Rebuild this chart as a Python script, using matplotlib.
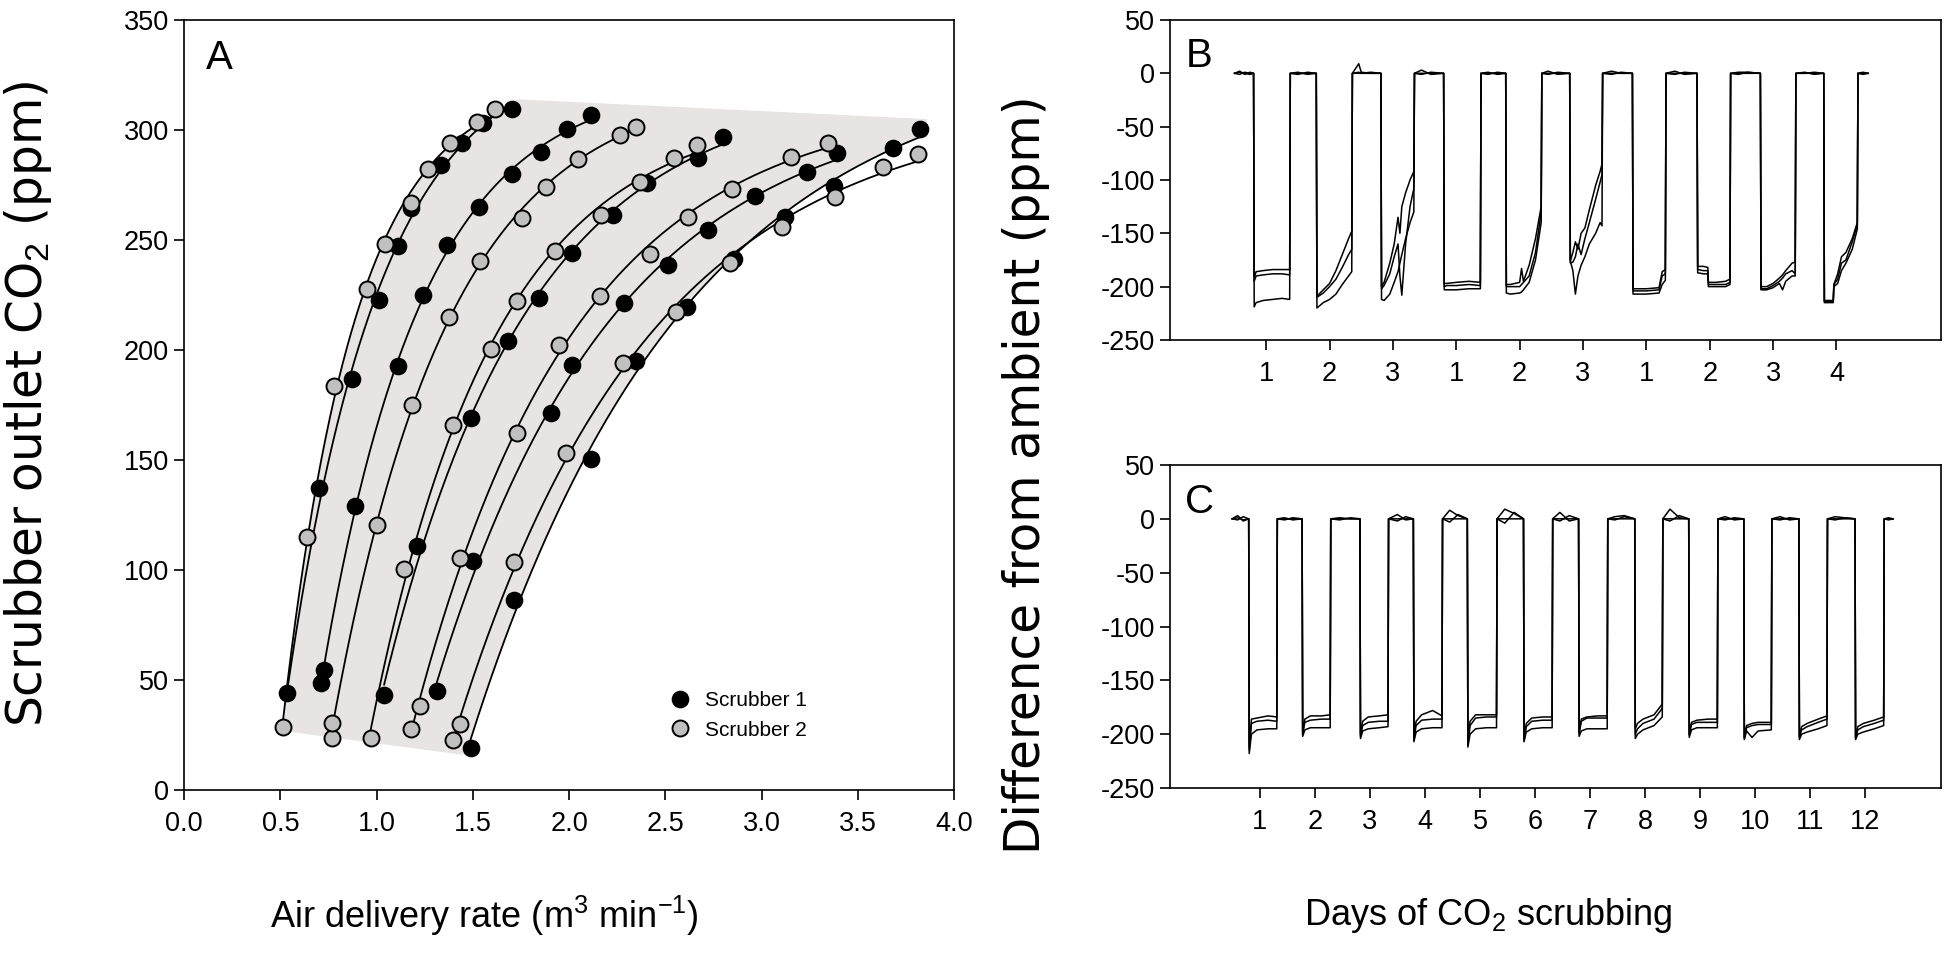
import numpy as np
import matplotlib
matplotlib.use("Agg")
import matplotlib.pyplot as plt
from matplotlib.lines import Line2D

WIDE = ['DejaVu Sans']
plt.rcParams['font.family'] = ['Liberation Sans', 'DejaVu Sans']
plt.rcParams['mathtext.fontset'] = 'custom'
plt.rcParams['mathtext.rm'] = 'Liberation Sans'
plt.rcParams['mathtext.it'] = 'Liberation Sans:italic'
plt.rcParams['axes.unicode_minus'] = False

# ---- panel A: outlet CO2 vs air delivery rate, one list per run ----
S1_X = [
    [0.537, 0.703, 0.871, 1.015, 1.110, 1.179, 1.335, 1.446, 1.555, 1.702],
    [0.710, 0.727, 0.888, 1.110, 1.243, 1.365, 1.534, 1.702, 1.853, 1.988, 2.114],
    [1.039, 1.209, 1.489, 1.685, 1.846, 2.014, 2.227, 2.407, 2.667, 2.802],
    [1.313, 1.503, 1.905, 2.017, 2.286, 2.516, 2.724, 2.966, 3.238, 3.394],
    [1.489, 1.714, 2.113, 2.348, 2.611, 2.857, 3.122, 3.377, 3.681, 3.823],
]
S1_Y = [
    [43.9, 137.4, 186.9, 222.9, 247.1, 264.8, 284.2, 294.3, 303.4, 309.7],
    [48.7, 54.5, 128.9, 192.9, 225.0, 247.7, 265.2, 279.9, 290.2, 300.3, 306.9],
    [43.1, 110.8, 169.0, 203.9, 223.5, 244.1, 261.5, 276.1, 287.5, 296.9],
    [45.1, 103.9, 171.3, 193.2, 221.2, 238.6, 254.7, 270.1, 281.0, 289.4],
    [19.1, 86.6, 150.6, 195.2, 219.8, 241.3, 260.7, 274.6, 291.7, 300.4],
]
S2_X = [
    [0.513, 0.637, 0.781, 0.949, 1.044, 1.179, 1.266, 1.382, 1.520, 1.616],
    [0.767, 0.767, 1.001, 1.183, 1.378, 1.538, 1.754, 1.881, 2.045, 2.265, 2.346],
    [0.970, 1.143, 1.399, 1.593, 1.728, 1.927, 2.165, 2.369, 2.545, 2.663],
    [1.179, 1.226, 1.434, 1.728, 1.950, 2.161, 2.421, 2.617, 2.847, 3.153, 3.347],
    [1.396, 1.434, 1.714, 1.984, 2.279, 2.556, 2.836, 3.105, 3.382, 3.633, 3.811],
]
S2_Y = [
    [28.5, 115.0, 183.5, 227.7, 248.4, 266.8, 282.2, 294.1, 303.8, 309.4],
    [23.5, 30.5, 120.7, 174.8, 215.2, 240.3, 260.2, 274.3, 286.7, 297.8, 301.5],
    [23.5, 100.6, 166.0, 200.5, 222.4, 245.1, 261.3, 276.6, 287.5, 293.2],
    [27.8, 38.1, 105.6, 162.4, 202.3, 224.7, 243.6, 260.6, 273.4, 287.9, 294.2],
    [22.7, 30.0, 103.6, 153.1, 194.1, 217.1, 239.8, 256.0, 269.6, 283.0, 289.3],
]
# corners of the grey envelope not lying on the outer curves
SHADE_TOP_X = [1.73, 3.86, 3.86]
SHADE_TOP_Y = [314, 305, 298]
SHADE_BOT_X = [1.45, 0.50]
SHADE_BOT_Y = [16, 27]

# ---- panel B: difference from ambient, three traces ----
B_T = [
    0.50, 0.58, 0.66, 0.74, 0.80,
    0.81, 0.84, 0.95, 1.10, 1.25, 1.37,
    1.38, 1.50, 1.65, 1.79,
    1.80, 1.90, 2.00, 2.10, 2.20, 2.30, 2.35,
    2.36, 2.46, 2.50, 2.65, 2.81,
    2.82, 2.86, 2.95, 3.02, 3.08, 3.11, 3.14, 3.20, 3.27, 3.33,
    3.34, 3.45, 3.60, 3.80,
    3.81, 3.85, 4.00, 4.20, 4.38,
    4.39, 4.50, 4.65, 4.78,
    4.79, 4.85, 5.00, 5.03, 5.06, 5.15, 5.25, 5.34,
    5.35, 5.45, 5.60, 5.79,
    5.80, 5.84, 5.88, 5.92, 5.97, 6.03, 6.10, 6.20, 6.27, 6.30,
    6.31, 6.45, 6.60, 6.78,
    6.79, 6.85, 7.00, 7.20, 7.25, 7.30,
    7.31, 7.45, 7.60, 7.80,
    7.81, 7.90, 7.97, 7.98, 8.10, 8.25, 8.32,
    8.33, 8.45, 8.60, 8.80,
    8.81, 8.90, 9.00, 9.10, 9.15, 9.20, 9.30, 9.35,
    9.36, 9.50, 9.65, 9.80,
    9.81, 9.95, 9.96, 10.02, 10.08, 10.15, 10.25, 10.33,
    10.34, 10.42, 10.50,
]
B_UP = [
    0, 2, -1, 1, 0,
    -192, -186, -185, -184, -184, -184,
    0, 1, -1, 0,
    -209, -203, -197, -185, -170, -155, -148,
    0, 9, 1, 0, 0,
    -200, -196, -178, -160, -135, -150, -125, -112, -100, -92,
    0, 3, -1, 0,
    -197, -197, -196, -195, -196,
    0, 1, -1, 0,
    -198, -198, -196, -183, -195, -180, -155, -125,
    0, 2, -1, 0,
    -176, -168, -158, -165, -150, -145, -128, -105, -92, -85,
    0, 2, 0, 0,
    -202, -202, -202, -201, -186, -184,
    0, 2, -1, 0,
    -181, -181, -182, -196, -196, -195, -193,
    0, 1, 1, 0,
    -200, -200, -197, -192, -189, -185, -178, -177,
    0, 0, 1, 0,
    -213, -213, -198, -188, -172, -168, -155, -140,
    0, 1, 0,
]
B_MID = [
    0, 1, 0, -1, 0,
    -195, -190, -189, -188, -188, -189,
    0, -1, 1, 0,
    -210, -206, -200, -193, -182, -170, -165,
    0, 1, 0, 1, 0,
    -202, -199, -188, -172, -160, -190, -208, -160, -125, -108,
    0, -1, 1, 0,
    -200, -199, -199, -198, -199,
    0, -1, 1, 0,
    -200, -200, -200, -198, -196, -190, -168, -130,
    0, -1, 1, 0,
    -178, -177, -172, -160, -170, -155, -140, -118, -102, -95,
    0, -1, 1, 0,
    -204, -204, -204, -203, -190, -188,
    0, -1, 1, 0,
    -184, -185, -185, -198, -198, -198, -196,
    0, -1, 1, 0,
    -202, -202, -199, -195, -192, -188, -185, -188,
    0, 1, -1, 0,
    -214, -214, -198, -193, -178, -175, -158, -142,
    0, -1, 0,
]
B_LOW = [
    0, -1, 1, 0, 0,
    -219, -215, -213, -212, -211, -212,
    0, 0, 0, 0,
    -220, -215, -212, -207, -198, -190, -186,
    0, 0, 0, 0, 0,
    -212, -213, -207, -196, -186, -178, -170, -155, -140, -130,
    0, 0, 0, 0,
    -203, -203, -203, -202, -202,
    0, 0, 0, 0,
    -206, -207, -206, -205, -203, -196, -175, -140,
    0, 0, 0, 0,
    -176, -185, -207, -190, -180, -172, -160, -150, -140, -143,
    0, 0, 0, 0,
    -207, -207, -207, -206, -198, -194,
    0, 0, 0, 0,
    -187, -188, -188, -200, -200, -200, -198,
    0, 0, 0, 0,
    -203, -203, -201, -197, -203, -195, -190, -190,
    0, 0, 0, 0,
    -215, -215, -200, -197, -185, -178, -165, -146,
    0, 0, 0,
]
B_TICKS = [1, 2, 3, 4, 5, 6, 7, 8, 9, 10]
B_TICKLABELS = ['1', '2', '3', '1', '2', '3', '1', '2', '3', '4']

# ---- panel C ----
C_T = [
    0.50, 0.60, 0.70, 0.80,
    0.81, 0.85, 0.95, 1.15, 1.31,
    1.32, 1.45, 1.60, 1.77,
    1.78, 1.82, 1.92, 2.12, 2.28,
    2.29, 2.45, 2.65, 2.82,
    2.83, 2.87, 2.97, 3.17, 3.33,
    3.34, 3.50, 3.65, 3.79,
    3.80, 3.84, 3.94, 4.14, 4.31,
    4.32, 4.45, 4.60, 4.77,
    4.78, 4.82, 4.92, 5.12, 5.30,
    5.31, 5.45, 5.62, 5.79,
    5.80, 5.84, 5.94, 6.14, 6.31,
    6.32, 6.45, 6.62, 6.79,
    6.80, 6.84, 6.94, 7.14, 7.31,
    7.32, 7.45, 7.62, 7.81,
    7.82, 7.86, 7.96, 8.16, 8.31,
    8.32, 8.45, 8.62, 8.79,
    8.80, 8.84, 8.94, 9.14, 9.31,
    9.32, 9.45, 9.62, 9.79,
    9.80, 9.84, 9.94, 10.05, 10.29,
    10.30, 10.45, 10.62, 10.79,
    10.80, 10.84, 10.94, 11.14, 11.30,
    11.31, 11.45, 11.62, 11.81,
    11.82, 11.86, 11.96, 12.16, 12.33,
    12.34, 12.42, 12.50,
]
C_UP = [
    0, 3, -2, 0,
    -212, -186, -185, -183, -184,
    0, 1, -1, 0,
    -198, -186, -183, -183, -182,
    0, 1, 0, 0,
    -200, -188, -184, -183, -182,
    0, 4, -1, 0,
    -203, -188, -182, -178, -183,
    0, 8, 3, 0,
    -208, -188, -182, -182, -182,
    0, 9, 5, 0,
    -205, -190, -185, -184, -184,
    0, 6, -2, 0,
    -198, -186, -184, -183, -183,
    0, 2, 3, 0,
    -195, -190, -186, -182, -172,
    0, 9, 1, 0,
    -200, -189, -187, -186, -186,
    0, 2, -1, 0,
    -203, -192, -190, -189, -189,
    0, 2, -1, 0,
    -202, -193, -190, -186, -183,
    0, 2, 1, 0,
    -203, -193, -190, -187, -184,
    0, 1, 0,
]
C_MID = [
    0, -1, 2, 0,
    -215, -190, -188, -187, -188,
    0, -1, 1, 0,
    -200, -189, -187, -186, -186,
    0, -1, 1, 0,
    -202, -192, -189, -188, -188,
    0, -2, 2, 0,
    -205, -192, -187, -186, -186,
    0, -3, 4, 0,
    -210, -192, -185, -184, -184,
    0, -4, 6, 0,
    -206, -193, -188, -187, -187,
    0, -2, 3, 0,
    -200, -188, -185, -185, -185,
    0, -1, 2, 0,
    -200, -195, -190, -186, -176,
    0, -2, 3, 0,
    -201, -191, -189, -189, -189,
    0, -1, 1, 0,
    -204, -194, -192, -191, -191,
    0, -1, 1, 0,
    -203, -196, -193, -189, -186,
    0, -1, 1, 0,
    -204, -196, -193, -190, -187,
    0, -1, 0,
]
C_LOW = [
    0, 1, -1, 0,
    -218, -200, -196, -195, -195,
    0, 0, 0, 0,
    -202, -196, -194, -194, -194,
    0, 0, 0, 0,
    -204, -197, -195, -194, -193,
    0, 0, 0, 0,
    -207, -198, -195, -194, -194,
    0, 0, 0, 0,
    -212, -200, -195, -194, -194,
    0, 0, 0, 0,
    -207, -198, -195, -194, -194,
    0, 0, 0, 0,
    -202, -197, -195, -195, -195,
    0, 0, 0, 0,
    -204, -200, -196, -192, -184,
    0, 0, 0, 0,
    -203, -196, -194, -194, -194,
    0, 0, 0, 0,
    -205, -197, -203, -197, -196,
    0, 0, 0, 0,
    -205, -200, -198, -195, -192,
    0, 0, 0, 0,
    -205, -200, -198, -195, -192,
    0, 0, 0,
]
C_TICKS = list(range(1, 13))

assert len(B_T) == len(B_UP) == len(B_MID) == len(B_LOW)
assert len(C_T) == len(C_UP) == len(C_MID) == len(C_LOW)


def fit_curve(x, y):
    # y = a - b*exp(-c*x), c by grid search
    x = np.asarray(x, float)
    y = np.asarray(y, float)
    best = None
    for c in np.linspace(0.05, 4.0, 400):
        M = np.column_stack([np.ones_like(x), -np.exp(-c * x)])
        coef = np.linalg.lstsq(M, y, rcond=None)[0]
        err = np.sum((M @ coef - y) ** 2)
        if best is None or err < best[0]:
            best = (err, c, coef)
    _, c, (a, b) = best
    xx = np.linspace(x.min(), x.max(), 200)
    return xx, a - b * np.exp(-c * xx)


TICK_FS = 19.5
LW = 1.2

fig = plt.figure(figsize=(19.46, 9.56), dpi=100)
axA = fig.add_axes([0.0946, 0.1736, 0.3957, 0.8054])
axB = fig.add_axes([0.6012, 0.6444, 0.3962, 0.3347])
axC = fig.add_axes([0.6012, 0.1757, 0.3962, 0.3379])

# panel A
s1_fits = [fit_curve(x, y) for x, y in zip(S1_X, S1_Y)]
s2_fits = [fit_curve(x, y) for x, y in zip(S2_X, S2_Y)]
left_x, left_y = s2_fits[0]
right_x, right_y = s1_fits[-1]
poly_x = [SHADE_BOT_X[1]] + list(left_x) + SHADE_TOP_X + list(right_x[::-1]) + [SHADE_BOT_X[0]]
poly_y = [SHADE_BOT_Y[1]] + list(left_y) + SHADE_TOP_Y + list(right_y[::-1]) + [SHADE_BOT_Y[0]]
axA.fill(poly_x, poly_y, color='#e8e4e4', lw=0, zorder=0)

for xx, yy in s1_fits + s2_fits:
    axA.plot(xx, yy, color='k', lw=1.3, zorder=2)
for x, y in zip(S1_X, S1_Y):
    axA.plot(x, y, 'o', ls='none', mfc='k', mec='k', ms=11.5, mew=1.2, zorder=3)
for x, y in zip(S2_X, S2_Y):
    axA.plot(x, y, 'o', ls='none', mfc='#c0c0c0', mec='k', ms=11.5, mew=1.4, zorder=4)

axA.set_xlim(0, 4.0)
axA.set_ylim(0, 350)
axA.set_xticks(np.arange(0, 4.01, 0.5))
axA.set_xticklabels(['%.1f' % v for v in np.arange(0, 4.01, 0.5)])
axA.set_yticks(np.arange(0, 351, 50))
axA.text(0.028, 0.951, 'A', transform=axA.transAxes, fontsize=29, va='center', ha='left')

handles = [
    Line2D([], [], marker='o', ls='none', mfc='k', mec='k', ms=11.5, mew=1.2),
    Line2D([], [], marker='o', ls='none', mfc='#c0c0c0', mec='k', ms=11.5, mew=1.4),
]
axA.legend(handles, ['Scrubber 1', 'Scrubber 2'], frameon=False, loc='center left',
           bbox_to_anchor=(0.606, 0.097), fontsize=15, handlelength=1.0,
           handletextpad=0.7, labelspacing=0.5)

# panels B and C
for ax, t, traces in [(axB, B_T, (B_UP, B_MID, B_LOW)), (axC, C_T, (C_UP, C_MID, C_LOW))]:
    for v in traces:
        ax.plot(t, v, color='k', lw=1.1)
    ax.set_ylim(-250, 50)
    ax.set_yticks(np.arange(-250, 51, 50))

axB.set_xlim(-0.52, 11.65)
axB.set_xticks(B_TICKS)
axB.set_xticklabels(B_TICKLABELS)
axC.set_xlim(-0.63, 13.37)
axC.set_xticks(C_TICKS)
axC.set_xticklabels([str(d) for d in C_TICKS])
axB.text(0.02, 0.887, 'B', transform=axB.transAxes, fontsize=29, va='center', ha='left')
axC.text(0.02, 0.887, 'C', transform=axC.transAxes, fontsize=29, va='center', ha='left')

for ax in (axA, axB, axC):
    for s in ax.spines.values():
        s.set_linewidth(LW)
    ax.tick_params(direction='out', length=7, width=LW, labelsize=TICK_FS)
    ax.tick_params(axis='x', pad=8)
    ax.tick_params(axis='y', pad=4)

fig.text(0.0145, 0.578, 'Scrubber outlet CO$_2$ (ppm)', rotation=90,
         fontsize=35, ha='center', va='center', family=WIDE)
fig.text(0.527, 0.503, 'Difference from ambient (ppm)', rotation=90,
         fontsize=35, ha='center', va='center', family=WIDE)
fig.text(0.249, 0.042, 'Air delivery rate (m$^3$ min$^{-1}$)',
         fontsize=26, ha='center', va='center')
fig.text(0.765, 0.042, 'Days of CO$_2$ scrubbing',
         fontsize=26, ha='center', va='center')

fig.savefig('out.png', dpi=100)
